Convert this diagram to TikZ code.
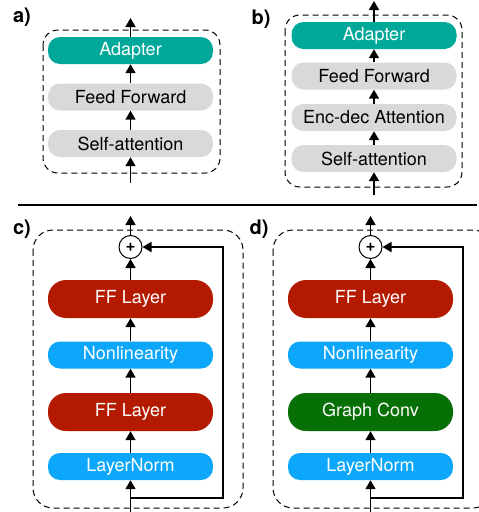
\documentclass[tikz,border=0pt]{standalone}
\usepackage{fontspec}
\setmainfont{TeX Gyre Heros}
\usetikzlibrary{arrows.meta,calc}
\definecolor{adaptercol}{RGB}{0,168,154}
\definecolor{sublayercol}{RGB}{217,217,217}
\definecolor{ffcol}{RGB}{180,26,0}
\definecolor{normcol}{RGB}{12,166,250}
\definecolor{convcol}{RGB}{6,112,6}
\tikzset{
    >={Triangle[length=9pt,width=10pt]},
    flow/.style={->,line width=1.7pt},
    block/.style={
        rounded corners=12pt,
        minimum width=165pt,
        minimum height=27pt,
        inner sep=0pt,
        font=\fontsize{18}{20}\selectfont,
    },
    tallblock/.style={
        block,
        rounded corners=18pt,
        minimum height=38pt,
    },
    sublayer/.style={block, fill=sublayercol, text=black},
    adapter/.style={block, fill=adaptercol, text=white},
    fflayer/.style={tallblock, fill=ffcol, text=white},
    normlayer/.style={block, fill=normcol, text=white},
    convlayer/.style={tallblock, fill=convcol, text=white},
    plus/.style={
        circle,
        draw,
        line width=1pt,
        fill=white,
        minimum size=23pt,
        inner sep=0pt,
        font=\bfseries\fontsize{17}{17}\selectfont,
    },
    frame/.style={line width=1pt, dash pattern=on 6pt off 4pt},
    panel/.style={font=\bfseries\fontsize{20}{20}\selectfont},
}
\begin{document}
\begin{tikzpicture}[x=1pt,y=-1pt]
    \useasboundingbox (0,0) rectangle (479,512);

    % a) adapter after the feed-forward sublayer
    \node[panel] (labelA) at (22,17) {a)};
    \draw[frame, rounded corners=15pt] (43,30) rectangle (220,173);
    \node[adapter]  (adapterA) at (130.5,50.5) {Adapter};
    \node[sublayer] (ffA)      at (130.5,97)   {Feed Forward};
    \node[sublayer] (saA)      at (130.5,143.5) {Self-attention};
    \coordinate (inA)  at (130.5,183);
    \coordinate (outA) at (130.5,18);
    \draw[flow] (inA) -- (saA);
    \draw[flow] (saA) -- (ffA);
    \draw[flow] (ffA) -- (adapterA);
    \draw[flow] (adapterA) -- (outA);

    % b) decoder layer
    \node[panel] (labelB) at (261,19) {b)};
    \draw[frame, rounded corners=15pt] (285,15) rectangle (462,187);
    \node[adapter]  (adapterB) at (374,35.5)  {Adapter};
    \node[sublayer] (ffB)      at (374,76)    {Feed Forward};
    \node[sublayer] (encB)     at (374,117.5) {Enc-dec Attention};
    \node[sublayer] (saB)      at (374,158.5) {Self-attention};
    \coordinate (inB)  at (374,195);
    \coordinate (outB) at (374,1);
    \draw[flow] (inB) -- (saB);
    \draw[flow] (saB) -- (encB);
    \draw[flow] (encB) -- (ffB);
    \draw[flow] (ffB) -- (adapterB);
    \draw[flow] (adapterB) -- (outB);

    \draw[line width=1.2pt] (18,205) -- (477,205);

    % c) bottleneck adapter
    \node[panel] (labelC) at (22,229) {c)};
    \draw[frame, rounded corners=20pt] (33,230) rectangle (243,508);
    \node[plus]      (plusC) at (130.5,247)   {+};
    \node[fflayer]   (ffC2)  at (130.5,299)   {FF Layer};
    \node[normlayer] (nlC)   at (130.5,355)   {Nonlinearity};
    \node[fflayer]   (ffC1)  at (130.5,412)   {FF Layer};
    \node[normlayer] (lnC)   at (130.5,466.5) {LayerNorm};
    \coordinate (inC)    at (130.5,514);
    \coordinate (splitC) at (130.5,498);
    \coordinate (skipC)  at (223,498);
    \coordinate (outC)   at (130.5,216);
    \draw[flow] (inC) -- (lnC);
    \draw[flow] (lnC) -- (ffC1);
    \draw[flow] (ffC1) -- (nlC);
    \draw[flow] (nlC) -- (ffC2);
    \draw[flow] (ffC2) -- (plusC);
    \draw[flow] (plusC) -- (outC);
    \draw[flow] (splitC) -- (skipC) |- (plusC);

    % d) graph adapter
    \node[panel] (labelD) at (259,229) {d)};
    \draw[frame, rounded corners=20pt] (273,230) rectangle (493,508);
    \node[plus]      (plusD) at (370.5,247)   {+};
    \node[fflayer]   (ffD)   at (370.5,299)   {FF Layer};
    \node[normlayer] (nlD)   at (370.5,355)   {Nonlinearity};
    \node[convlayer] (gcD)   at (370.5,412)   {Graph Conv};
    \node[normlayer] (lnD)   at (370.5,466.5) {LayerNorm};
    \coordinate (inD)    at (370.5,514);
    \coordinate (splitD) at (370.5,498);
    \coordinate (skipD)  at (463,498);
    \coordinate (outD)   at (370.5,216);
    \draw[flow] (inD) -- (lnD);
    \draw[flow] (lnD) -- (gcD);
    \draw[flow] (gcD) -- (nlD);
    \draw[flow] (nlD) -- (ffD);
    \draw[flow] (ffD) -- (plusD);
    \draw[flow] (plusD) -- (outD);
    \draw[flow] (splitD) -- (skipD) |- (plusD);
\end{tikzpicture}
\end{document}
